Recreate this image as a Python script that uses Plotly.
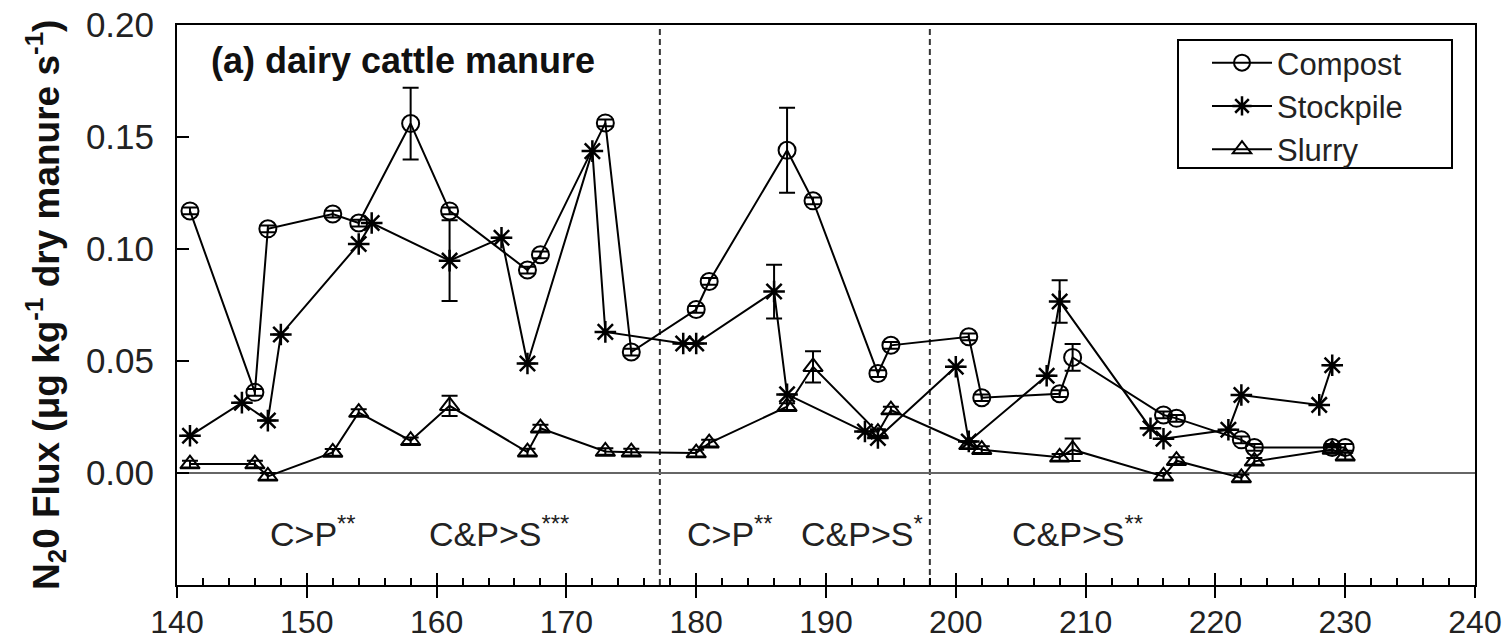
import plotly.graph_objects as go

# ---------------- data ----------------
compost_day = [141, 146, 147, 152, 154, 158, 161, 167, 168, 173, 175, 180, 181, 187, 189,
               194, 195, 201, 202, 208, 209, 216, 217, 222, 223, 229, 230]
compost_flux = [0.117, 0.036, 0.109, 0.1156, 0.1116, 0.156, 0.117, 0.0906, 0.0974, 0.1563,
                0.054, 0.073, 0.0855, 0.1441, 0.1215, 0.0444, 0.057, 0.0608, 0.0336, 0.0354,
                0.0516, 0.0259, 0.0244, 0.0148, 0.0114, 0.0114, 0.0114]
compost_err = [0.0015, 0.0015, 0.0015, 0.0015, 0.0015, 0.016, 0.0015, 0.0015, 0.0015, 0.0015,
               0.0015, 0.0015, 0.0015, 0.019, 0.0015, 0.0015, 0.0015, 0.0015, 0.0015, 0.0015,
               0.006, 0.0015, 0.0015, 0.0015, 0.0015, 0.0015, 0.0015]

stock_day = [141, 145, 147, 148, 154, 155, 161, 165, 167, 172, 173, 179, 180, 186, 187,
             193, 194, 200, 201, 207, 208, 215, 216, 221, 222, 228, 229]
stock_flux = [0.0166, 0.0314, 0.0234, 0.0618, 0.1022, 0.1116, 0.0948, 0.105, 0.0489, 0.1437,
              0.063, 0.0578, 0.0578, 0.081, 0.0351, 0.0185, 0.0156, 0.0474, 0.0141, 0.0434,
              0.0766, 0.020, 0.0153, 0.0193, 0.0348, 0.0304, 0.0481]
stock_err = [0, 0, 0, 0, 0, 0, 0.018, 0, 0, 0, 0, 0, 0, 0.012, 0, 0, 0, 0, 0, 0,
             0.0095, 0, 0, 0, 0, 0, 0]

slurry_day = [141, 146, 147, 152, 154, 158, 161, 167, 168, 173, 175, 180, 181, 187, 189,
              194, 195, 201, 202, 208, 209, 216, 217, 222, 223, 229, 230]
slurry_flux = [0.004, 0.004, -0.0015, 0.0092, 0.027, 0.0144, 0.030, 0.0093, 0.020, 0.0096,
               0.0093, 0.0089, 0.0133, 0.0296, 0.0474, 0.018, 0.0281, 0.0126, 0.0104, 0.007,
               0.0104, -0.0015, 0.0055, -0.0022, 0.0052, 0.0105, 0.0075]
slurry_err = [0.0015, 0.0015, 0.0015, 0.0015, 0.0015, 0.0015, 0.0045, 0.0015, 0.0015, 0.0015,
              0.0015, 0.0015, 0.0015, 0.0015, 0.007, 0.0015, 0.0015, 0.0015, 0.0015, 0.0015,
              0.005, 0.0015, 0.0015, 0.0015, 0.0015, 0.0015, 0.0015]

period_bounds = [177.2, 198.0]
sig_labels = ["C>P<sup>**</sup>", "C&P>S<sup>***</sup>", "C>P<sup>**</sup>",
              "C&P>S<sup>*</sup>", "C&P>S<sup>**</sup>"]
sig_x = [150.5, 164.8, 182.6, 192.8, 209.4]
sig_y = -0.026

x_ticks = list(range(140, 241, 10))
y_ticks = [0.0, 0.05, 0.10, 0.15, 0.20]

FONT = "Liberation Sans, Arial, Helvetica, sans-serif"
BLK = "black"

# plot area geometry (px)
L, R, T, B = 177, 35, 25, 56
PW = 1510 - L - R
PH = 641 - T - B

fig = go.Figure()

def add(name, xs, ys, errs, symbol, size, lw):
    fig.add_trace(go.Scatter(
        x=xs, y=ys, name=name, mode="lines+markers",
        line=dict(color=BLK, width=2),
        marker=dict(symbol=symbol, size=size, color=BLK, line=dict(color=BLK, width=lw)),
        error_y=dict(type="data", array=errs, visible=True, color=BLK, thickness=2, width=8),
    ))

add("Compost", compost_day, compost_flux, compost_err, "circle-open", 17, 2)
add("Stockpile", stock_day, stock_flux, stock_err, "asterisk-open", 18, 2.5)
add("Slurry", slurry_day, slurry_flux, slurry_err, "triangle-up-open", 17, 2)

# dummy trace for secondary axis (outer half of major ticks)
fig.add_trace(go.Scatter(x=[None], y=[None], xaxis="x2", showlegend=False, hoverinfo="skip"))

for xb in period_bounds:
    fig.add_shape(type="line", xref="x", yref="paper", x0=xb, x1=xb, y0=0, y1=1,
                  line=dict(color="#333", width=2, dash="6px,4px"), layer="below")

# legend frame
fig.add_shape(type="rect", xref="paper", yref="paper",
              x0=(1178 - L) / PW, x1=(1452 - L) / PW,
              y0=(641 - B - 168) / PH, y1=(641 - B - 40) / PH,
              line=dict(color=BLK, width=2), fillcolor="rgba(0,0,0,0)", layer="above")

for txt, xv in zip(sig_labels, sig_x):
    fig.add_annotation(x=xv, y=sig_y, xref="x", yref="y", text=txt, showarrow=False,
                       font=dict(family=FONT, size=34, color="#222"),
                       xanchor="center", yanchor="middle")

fig.add_annotation(x=(209 - L) / PW, y=(641 - B - 60) / PH, xref="paper", yref="paper",
                   text="<b>(a) dairy cattle manure</b>", showarrow=False,
                   font=dict(family=FONT, size=36, color="#111"),
                   xanchor="left", yanchor="middle")

fig.add_annotation(x=(45 - L) / PW, y=0.5, xref="paper", yref="paper", textangle=-90,
                   text="<b>N<sub>2</sub>0 Flux (μg kg<sup>-1</sup> dry manure s<sup>-1</sup>)</b>",
                   showarrow=False, font=dict(family=FONT, size=37, color="#111"),
                   xanchor="center", yanchor="middle")

fig.update_layout(
    width=1510, height=641,
    margin=dict(l=L, r=R, t=T, b=B, autoexpand=False),
    paper_bgcolor="white", plot_bgcolor="white",
    font=dict(family=FONT, size=32, color="#222"),
    showlegend=True,
    legend=dict(x=(1207 - L) / PW, y=(641 - B - 36) / PH, xanchor="left", yanchor="top",
                bgcolor="rgba(0,0,0,0)", borderwidth=0,
                font=dict(family=FONT, size=31, color="#222"),
                itemwidth=60, tracegroupgap=0),
    xaxis=dict(range=[140, 240], tickvals=x_ticks, ticks="inside", ticklen=12, tickwidth=2,
               tickcolor=BLK, showline=True, linecolor=BLK, linewidth=2, mirror=True,
               showgrid=False, zeroline=False, ticklabelstandoff=8, automargin=False,
               tickfont=dict(family=FONT, size=32, color="#222"),
               minor=dict(dtick=2, ticks="inside", ticklen=7, tickwidth=2, tickcolor=BLK,
                          showgrid=False)),
    xaxis2=dict(range=[140, 240], overlaying="x", anchor="y", side="bottom",
                tickvals=x_ticks, ticks="outside", ticklen=12, tickwidth=2, tickcolor=BLK,
                showticklabels=False, showline=False, showgrid=False, zeroline=False,
                automargin=False),
    yaxis=dict(range=[-0.05, 0.20], tickvals=y_ticks, tickformat=".2f", ticks="inside",
               ticklen=12, tickwidth=2, tickcolor=BLK, showline=True, linecolor=BLK,
               linewidth=2, mirror=True, showgrid=False, zeroline=True,
               zerolinecolor="#666", zerolinewidth=2, ticklabelstandoff=14, automargin=False,
               tickfont=dict(family=FONT, size=35, color="#222")),
)

fig.write_html("out.html")
